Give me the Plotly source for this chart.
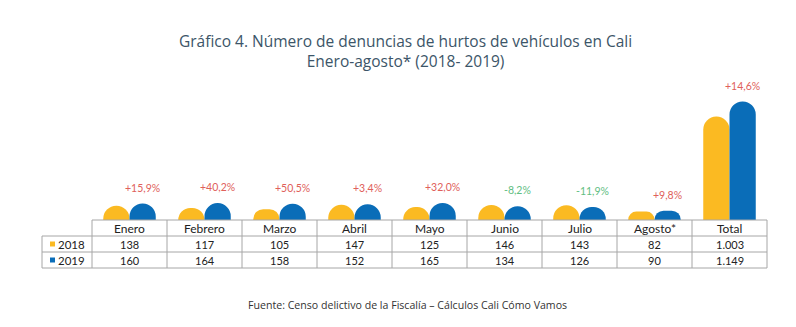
import plotly.graph_objects as go

# Monthly reports of vehicle theft in Cali, Jan–Aug 2018 vs 2019
categories = ["Enero", "Febrero", "Marzo", "Abril", "Mayo", "Junio", "Julio", "Agosto*", "Total"]
values_2018 = [138, 117, 105, 147, 125, 146, 143, 82, 1003]
values_2019 = [160, 164, 158, 152, 165, 134, 126, 90, 1149]
series_names = ["2018", "2019"]

YELLOW = "#FBBA22"
BLUE = "#0A6DB8"
RED = "#E0605A"
GREEN = "#62BE82"
GRID = "#A6A6A6"
FONT = "Lato"
TITLE_FONT = "Open Sans"

# Layout geometry (pixels)
W, H = 796, 327
PLOT_L, PLOT_R = 92, 767
PLOT_T, PLOT_B = 86, 220
plot_h = PLOT_B - PLOT_T
plot_w = PLOT_R - PLOT_L


def py(pix):
    """Pixel row -> paper y (relative to the plot area)."""
    return (PLOT_B - pix) / plot_h


def px(pix):
    """Pixel column -> paper x (relative to the plot area)."""
    return (pix - PLOT_L) / plot_w


def fmt_int(v):
    return f"{v:,}".replace(",", ".")


def fmt_pct(a, b):
    p = (b / a - 1) * 100
    s = f"{p:+.1f}%".replace(".", ",")
    return s


fig = go.Figure()
fig.add_trace(go.Bar(x=categories, y=values_2018, name=series_names[0],
                     marker=dict(color=YELLOW, line=dict(width=0))))
fig.add_trace(go.Bar(x=categories, y=values_2019, name=series_names[1],
                     marker=dict(color=BLUE, line=dict(width=0))))

annotations = []
shapes = []

# Year-over-year change labels above the 2019 bars
for cat, a, b in zip(categories, values_2018, values_2019):
    col = RED if b >= a else GREEN
    annotations.append(dict(x=cat, y=b, xref="x", yref="y", text=fmt_pct(a, b),
                            showarrow=False, xshift=13, yshift=8, yanchor="bottom",
                            font=dict(family=FONT, size=10.5, color=col)))

# Data table under the chart
row_top = [220, 236, 252]
row_bot = 268
row_mid = [228, 244, 260]
n = len(categories)
col_w = plot_w / n
LEG_L = 42

# horizontal lines
shapes.append(dict(type="line", xref="paper", yref="paper", x0=0, x1=1,
                   y0=py(row_top[0]), y1=py(row_top[0]), line=dict(color=GRID, width=1)))
for yy in row_top[1:] + [row_bot]:
    shapes.append(dict(type="line", xref="paper", yref="paper", x0=px(LEG_L), x1=1,
                       y0=py(yy), y1=py(yy), line=dict(color=GRID, width=1)))
# vertical lines
for i in range(n + 1):
    xx = PLOT_L + i * col_w
    shapes.append(dict(type="line", xref="paper", yref="paper", x0=px(xx), x1=px(xx),
                       y0=py(row_top[0]), y1=py(row_bot), line=dict(color=GRID, width=1)))
shapes.append(dict(type="line", xref="paper", yref="paper", x0=px(LEG_L), x1=px(LEG_L),
                   y0=py(row_top[1]), y1=py(row_bot), line=dict(color=GRID, width=1)))

# header and values
for cat in categories:
    annotations.append(dict(x=cat, y=py(row_mid[0]), xref="x", yref="paper", text=cat,
                            showarrow=False, yanchor="middle",
                            font=dict(family=FONT, size=12, color="#222222")))
for row, vals in zip(row_mid[1:], [values_2018, values_2019]):
    for cat, v in zip(categories, vals):
        annotations.append(dict(x=cat, y=py(row), xref="x", yref="paper", text=fmt_int(v),
                                showarrow=False, yanchor="middle",
                                font=dict(family=FONT, size=11, color="#222222")))

# legend keys inside the table
for row, name, colr in zip(row_mid[1:], series_names, [YELLOW, BLUE]):
    shapes.append(dict(type="rect", xref="paper", yref="paper",
                       x0=px(50), x1=px(55), y0=py(row + 2.5), y1=py(row - 2.5),
                       fillcolor=colr, line=dict(width=0)))
    annotations.append(dict(x=px(56), y=py(row), xref="paper", yref="paper", text=name,
                            showarrow=False, xanchor="left", yanchor="middle",
                            font=dict(family=FONT, size=11.5, color="#222222")))

# title and source
annotations.append(dict(x=px(405), y=py(51), xref="paper", yref="paper",
                        text="Gráfico 4. Número de denuncias de hurtos de vehículos en Cali<br>Enero-agosto* (2018- 2019)",
                        showarrow=False, xanchor="center", yanchor="middle",
                        font=dict(family=TITLE_FONT, size=15.5, color="#3C5568")))
annotations.append(dict(x=px(407), y=py(305), xref="paper", yref="paper",
                        text="Fuente: Censo delictivo de la Fiscalía – Cálculos Cali Cómo Vamos",
                        showarrow=False, xanchor="center", yanchor="middle",
                        font=dict(family=TITLE_FONT, size=10.6, color="#333333")))

fig.update_layout(
    width=W, height=H,
    margin=dict(l=PLOT_L, r=W - PLOT_R, t=PLOT_T, b=H - PLOT_B, pad=0),
    paper_bgcolor="white", plot_bgcolor="white",
    barmode="group", bargap=0.3, bargroupgap=0, barcornerradius=13,
    showlegend=False,
    xaxis=dict(showticklabels=False, showgrid=False, zeroline=False, showline=False,
               ticks="", fixedrange=True),
    yaxis=dict(range=[0, 1300], showticklabels=False, showgrid=False, zeroline=False,
               showline=False, ticks="", fixedrange=True),
    annotations=annotations, shapes=shapes,
)

fig.write_html("out.html")
